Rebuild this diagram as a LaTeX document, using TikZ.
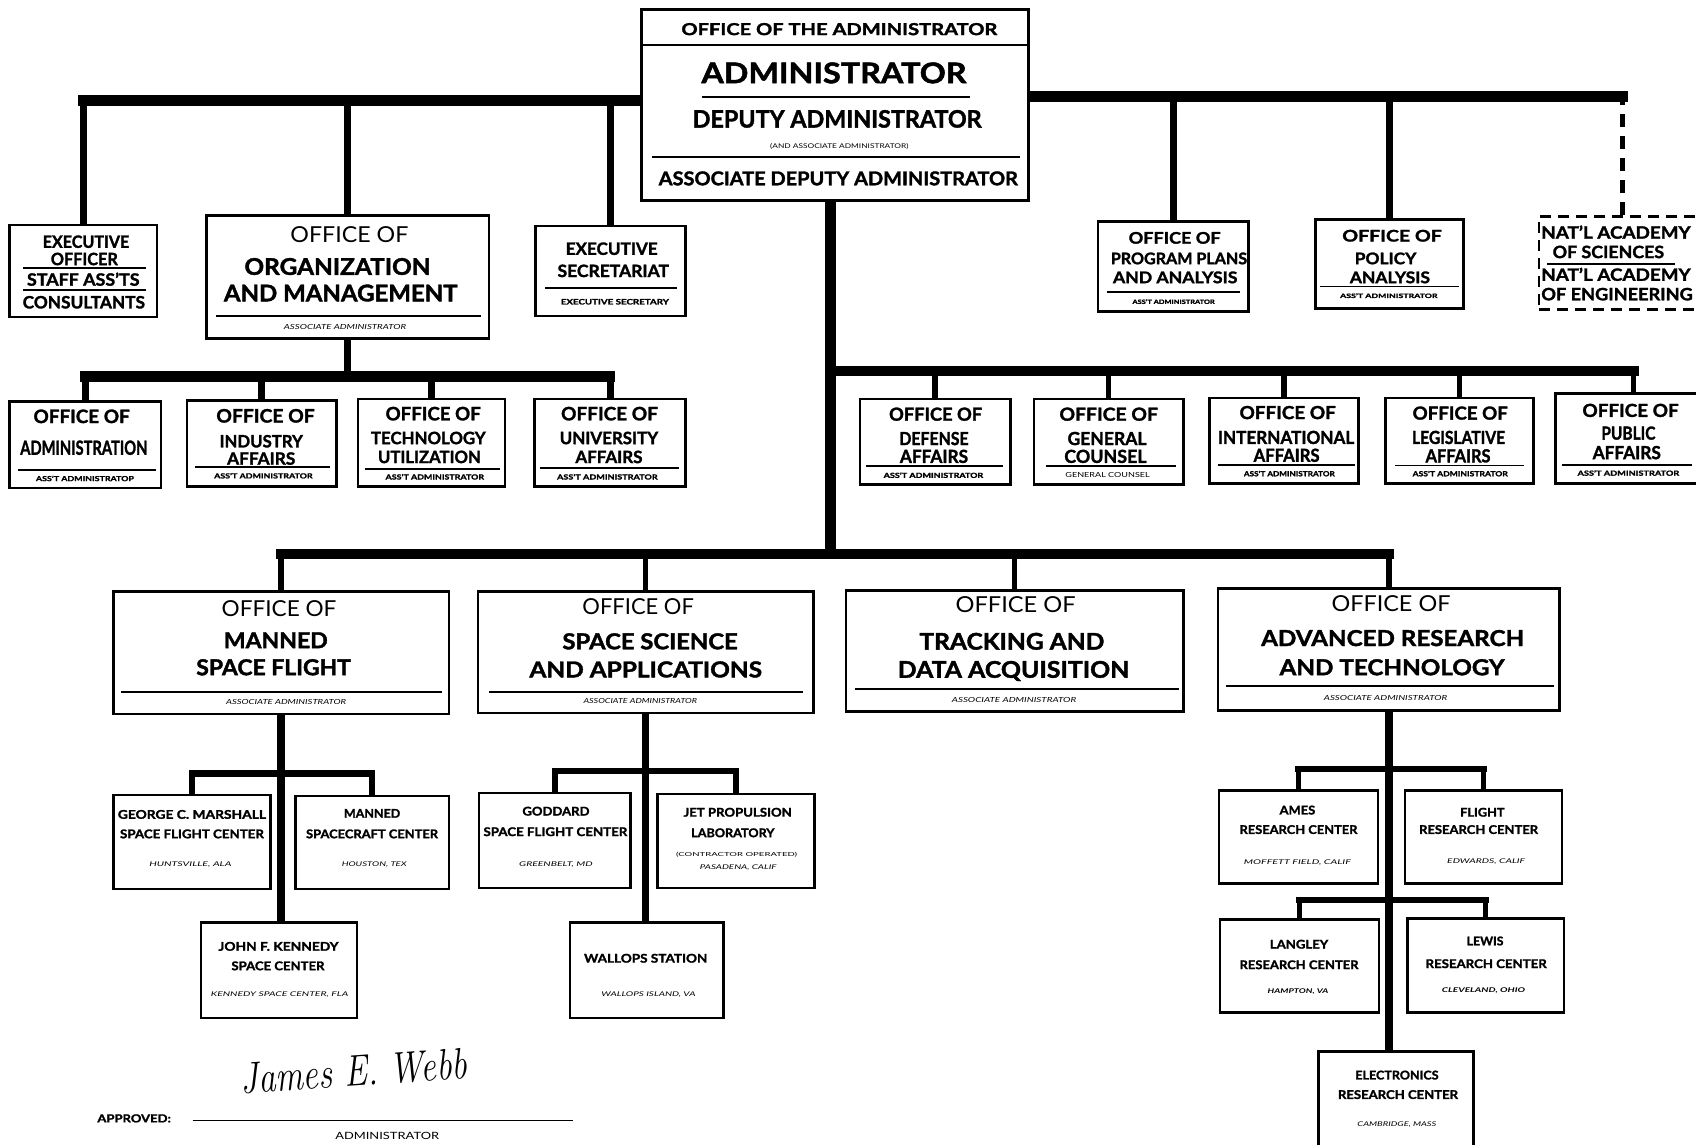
\documentclass[tikz,border=0pt]{standalone}
\usepackage{fontspec}
\setsansfont{Lato}[BoldFeatures={FakeBold=1.6}]
\renewcommand\familydefault{\sfdefault}
\usetikzlibrary{fit,backgrounds}
\newlength\uu\setlength\uu{1.0816pt}
\newcounter{tc}
\newcommand\tx[6]{\stepcounter{tc}\edef\tcname{t\arabic{tc}}\node[txt] (\tcname) at (#1,{#2+#4*0.331}) {\resizebox{#3\uu}{\height}{\fontsize{#4}{#4}\selectfont#5#6}};}
\newcommand\bx[5]{\node[boxst,fit={(#2,#3)(#4,#5)}] (#1) {};}
\newcommand\hl[3]{\draw[inl] (#1,#3) -- (#2,#3);}
\tikzset{
 txt/.style={anchor=base,inner sep=0pt,outer sep=0pt},
 boxst/.style={draw,line width=2.6pt,inner sep=0pt,fill=white},
 dboxst/.style={draw,line width=2.6pt,inner sep=0pt,fill=white,dash pattern=on 11pt off 7pt},
 inl/.style={line width=1.6pt},
 thickbar/.style={line width=10.5pt,line cap=rect},
 dropA/.style={line width=7pt},
 dropB/.style={line width=5.5pt},
 ddrop/.style={line width=5pt,dash pattern=on 13pt off 9pt},
 subspine/.style={line width=7.5pt},
 sbar/.style={line width=6.5pt,line cap=rect},
}
\begin{document}
\begin{tikzpicture}[x=1.0816pt,y=-1.0816pt]
\useasboundingbox (0,0) rectangle (1568,1058);
\begin{pgfonlayer}{background}
\fill[white] (0,0) rectangle (1568,1058);
\end{pgfonlayer}

% ---------- boxes ----------
\node[boxst,line width=3pt,fit={(593,9)(951,185)}] (adm) {};
\bx{eo}{9}{208}{145}{293}
\bx{org}{191}{199}{452}{313}
\bx{es}{495}{209}{634}{292}
\bx{ppa}{1015}{205}{1154}{288}
\bx{pol}{1216}{203}{1353}{285}
\node[dboxst,fit={(1423,200)(1577,286)}] (nas) {};
\bx{oad}{9}{371}{149}{451}
\bx{oind}{173}{370}{311}{450}
\bx{otec}{331}{369}{467}{450}
\bx{ouni}{494}{369}{634}{450}
\bx{def}{795}{369}{934}{448}
\bx{gc}{956}{369}{1094}{448}
\bx{intl}{1118}{368}{1256}{447}
\bx{leg}{1281}{368}{1418}{447}
\bx{pub}{1438}{364}{1582}{447}
\bx{man}{105}{547}{415}{660}
\bx{ss}{442}{547}{752}{659}
\bx{tda}{782}{546}{1094}{658}
\bx{adv}{1126}{544}{1442}{657}
\bx{msfc}{105}{735}{250}{822}
\bx{msc}{273}{736}{415}{822}
\bx{ksc}{186}{853}{330}{941}
\bx{gsfc}{443}{733}{583}{821}
\bx{jpl}{608}{734}{753}{821}
\bx{wal}{527}{853}{669}{941}
\bx{ames}{1127}{731}{1274}{817}
\bx{frc}{1299}{731}{1444}{817}
\bx{larc}{1128}{850}{1275}{936}
\bx{lerc}{1301}{849}{1446}{936}
\bx{erc}{1219}{972}{1362}{1068}

% ---------- connectors ----------
\coordinate (yT1) at (0,93);
\coordinate (yT2) at (0,89);
\coordinate (sp) at (768,0);
\coordinate (yM) at (0,343);
\coordinate (yB) at (0,512);
\coordinate (yO) at (0,348);
\coordinate (yMB) at (0,715);
\coordinate (ySB) at (0,713);
\coordinate (yAB) at (0,711);
\coordinate (yAB2) at (0,832);
\begin{pgfonlayer}{background}
\draw[thickbar] (adm.west |- yT1) -- (eo.north |- yT1);
\draw[dropA] (eo.north) -- (eo.north |- yT1);
\draw[dropA] (org.north) -- (org.north |- yT1);
\draw[dropA] (es.north) -- (es.north |- yT1);
\draw[thickbar] (adm.east |- yT2) -- (nas.north |- yT2);
\draw[dropA] (ppa.north) -- (ppa.north |- yT2);
\draw[dropA] (pol.north) -- (pol.north |- yT2);
\draw[ddrop] (nas.north) -- (nas.north |- yT2);
% spine
\draw[thickbar] (adm.south -| sp) -- (sp |- yB);
\draw[thickbar] (sp |- yM) -- (pub.north |- yM);
\foreach \n in {def,gc,intl,leg,pub} \draw[dropB] (\n.north) -- (\n.north |- yM);
\draw[thickbar] (man.north |- yB) -- (adv.north |- yB);
\foreach \n in {man,ss,tda,adv} \draw[dropB] (\n.north) -- (\n.north |- yB);
% org
\draw[dropA] (org.south) -- (org.south |- yO);
\draw[thickbar] (oad.north |- yO) -- (ouni.north |- yO);
\foreach \n in {oad,oind,otec,ouni} \draw[dropA] (\n.north) -- (\n.north |- yO);
% manned
\draw[subspine] (man.south) -- (man.south |- ksc.north);
\draw[sbar] (msfc.north |- yMB) -- (msc.north |- yMB);
\foreach \n in {msfc,msc} \draw[dropB] (\n.north) -- (\n.north |- yMB);
% space science
\draw[subspine] (ss.south) -- (ss.south |- wal.north);
\draw[sbar] (gsfc.north |- ySB) -- (jpl.north |- ySB);
\foreach \n in {gsfc,jpl} \draw[dropB] (\n.north) -- (\n.north |- ySB);
% advanced
\draw[subspine] (adv.south) -- (adv.south |- erc.north);
\draw[sbar] (ames.north |- yAB) -- (frc.north |- yAB);
\foreach \n in {ames,frc} \draw[dropB] (\n.north) -- (\n.north |- yAB);
\draw[sbar] (larc.north |- yAB2) -- (lerc.north |- yAB2);
\foreach \n in {larc,lerc} \draw[dropB] (\n.north) -- (\n.north |- yAB2);
\end{pgfonlayer}

% ---------- main box ----------
\draw[line width=2.2pt] (593,41.6) -- (951,41.6);
\hl{649}{897}{89.5}
\hl{603}{943}{145}
\tx{776}{27}{292}{16.5}{\bfseries}{OFFICE OF THE ADMINISTRATOR}
\tx{771}{67.5}{245}{28.5}{\bfseries}{ADMINISTRATOR}
\tx{774}{110}{267}{24}{\bfseries}{DEPUTY ADMINISTRATOR}
\tx{776}{135}{128}{6.5}{}{(AND ASSOCIATE ADMINISTRATOR)}
\tx{775}{165}{332}{19}{\bfseries}{ASSOCIATE DEPUTY ADMINISTRATOR}

% ---------- executive officer ----------
\hl{21}{135}{248}
\hl{21}{135}{268}
\tx{79.5}{223.5}{80}{17}{\bfseries}{EXECUTIVE}
\tx{78}{239.5}{62}{17}{\bfseries}{OFFICER}
\tx{77}{258.5}{104}{17}{\bfseries}{STAFF ASS'TS}
\tx{77.5}{279.5}{113}{17}{\bfseries}{CONSULTANTS}

% ---------- organization and management ----------
\hl{200}{445}{292}
\tx{323}{217}{109}{22}{}{OFFICE OF}
\tx{312}{246.5}{172}{23}{\bfseries}{ORGANIZATION}
\tx{315}{271}{216}{23}{\bfseries}{AND MANAGEMENT}
\tx{319}{302.5}{113}{7}{\itshape}{ASSOCIATE ADMINISTRATOR}

% ---------- executive secretariat ----------
\hl{504}{626}{266.5}
\tx{565.5}{230}{85}{17}{\bfseries}{EXECUTIVE}
\tx{567}{250.5}{103}{17}{\bfseries}{SECRETARIAT}
\tx{568.5}{279}{100}{7.5}{\bfseries}{EXECUTIVE SECRETARY}

% ---------- program plans ----------
\hl{1023}{1146}{270}
\tx{1086}{220}{85}{16}{\bfseries}{OFFICE OF}
\tx{1090}{239}{126}{16}{\bfseries}{PROGRAM PLANS}
\tx{1086.5}{256.5}{115}{16}{\bfseries}{AND ANALYSIS}
\tx{1085}{279}{76}{6}{\bfseries}{ASS'T ADMINISTRATOR}

% ---------- policy analysis ----------
\hl{1220}{1349}{265}
\tx{1287}{218}{92}{16}{\bfseries}{OFFICE OF}
\tx{1281}{239}{57}{16}{\bfseries}{POLICY}
\tx{1285}{256.5}{74}{16}{\bfseries}{ANALYSIS}
\tx{1284}{273.5}{90}{6}{\bfseries}{ASS'T ADMINISTRATOR}

% ---------- national academies ----------
\hl{1430}{1549}{244}
\tx{1494}{215}{138}{17}{\bfseries}{NAT'L ACADEMY}
\tx{1487}{233}{103}{17}{\bfseries}{OF SCIENCES}
\tx{1494}{254}{138}{17}{\bfseries}{NAT'L ACADEMY}
\tx{1495}{272}{140}{17}{\bfseries}{OF ENGINEERING}

% ---------- org children ----------
\hl{16.5}{144}{434.5}
\tx{75.5}{385}{89}{18.5}{\bfseries}{OFFICE OF}
\tx{77.5}{414}{117.5}{19.5}{\bfseries}{ADMINISTRATION}
\tx{78.5}{442.5}{90.5}{7}{\bfseries}{ASS'T ADMINISTRATOP}

\hl{180.5}{305}{432}
\tx{245.5}{384.5}{91}{18.5}{\bfseries}{OFFICE OF}
\tx{241.5}{408}{77}{17}{\bfseries}{INDUSTRY}
\tx{241.5}{424}{63}{17}{\bfseries}{AFFAIRS}
\tx{243.5}{440}{91}{7}{\bfseries}{ASS'T ADMINISTRATOR}

\hl{337}{462}{433.5}
\tx{400.5}{382.5}{88}{18.5}{\bfseries}{OFFICE OF}
\tx{396}{405}{106}{17}{\bfseries}{TECHNOLOGY}
\tx{397}{422.5}{95}{17}{\bfseries}{UTILIZATION}
\tx{402}{441}{91}{7}{\bfseries}{ASS'T ADMINISTRATOR}

\hl{499}{627.5}{432.5}
\tx{563.5}{382.5}{89.5}{18.5}{\bfseries}{OFFICE OF}
\tx{563}{405}{91}{17}{\bfseries}{UNIVERSITY}
\tx{563}{422.5}{62}{17}{\bfseries}{AFFAIRS}
\tx{561.5}{441}{93}{7}{\bfseries}{ASS'T ADMINISTRATOR}

% ---------- staff offices right ----------
\hl{800.5}{927.5}{431}
\tx{865}{383}{86}{18}{\bfseries}{OFFICE OF}
\tx{863.5}{405.5}{64}{18}{\bfseries}{DEFENSE}
\tx{863.5}{422}{63}{18}{\bfseries}{AFFAIRS}
\tx{863}{439.5}{92}{7}{\bfseries}{ASS'T ADMINISTRATOR}

\hl{967}{1087}{431}
\tx{1025}{383}{91}{18}{\bfseries}{OFFICE OF}
\tx{1023.5}{405.5}{73}{18}{\bfseries}{GENERAL}
\tx{1022}{422}{76}{18}{\bfseries}{COUNSEL}
\tx{1024}{439.5}{78}{7}{}{GENERAL COUNSEL}

\hl{1126}{1252.5}{430}
\tx{1190.5}{381.5}{89}{18}{\bfseries}{OFFICE OF}
\tx{1189}{404.5}{126}{18}{\bfseries}{INTERNATIONAL}
\tx{1189.5}{421}{61}{18}{\bfseries}{AFFAIRS}
\tx{1192}{438}{84}{7}{\bfseries}{ASS'T ADMINISTRATOR}

\hl{1290}{1409}{430.5}
\tx{1350}{382}{88}{18}{\bfseries}{OFFICE OF}
\tx{1348.5}{404.5}{86}{18}{\bfseries}{LEGISLATIVE}
\tx{1348}{421.5}{60}{18}{\bfseries}{AFFAIRS}
\tx{1350}{438}{88}{7}{\bfseries}{ASS'T ADMINISTRATOR}

\hl{1444}{1564}{430}
\tx{1507.5}{379.5}{89}{18}{\bfseries}{OFFICE OF}
\tx{1505.5}{400.5}{50}{18}{\bfseries}{PUBLIC}
\tx{1504}{418.5}{63}{18}{\bfseries}{AFFAIRS}
\tx{1505.5}{437.5}{94}{7}{\bfseries}{ASS'T ADMINISTRATOR}

% ---------- program offices ----------
\hl{112}{409}{640}
\tx{258}{563}{106}{22}{}{OFFICE OF}
\tx{255}{592}{96}{22}{\bfseries}{MANNED}
\tx{253}{617}{143}{22}{\bfseries}{SPACE FLIGHT}
\tx{264.5}{649}{111}{7}{\itshape}{ASSOCIATE ADMINISTRATOR}

\hl{452}{742}{640}
\tx{590}{561}{103}{22}{}{OFFICE OF}
\tx{601}{593}{162}{22}{\bfseries}{SPACE SCIENCE}
\tx{597}{619}{215}{22}{\bfseries}{AND APPLICATIONS}
\tx{592}{648}{105}{7}{\itshape}{ASSOCIATE ADMINISTRATOR}

\hl{790}{1090}{637}
\tx{939}{559}{111}{22}{}{OFFICE OF}
\tx{935.5}{593}{171}{23}{\bfseries}{TRACKING AND}
\tx{937}{619}{214}{23}{\bfseries}{DATA ACQUISITION}
\tx{937.5}{647}{115}{7}{\itshape}{ASSOCIATE ADMINISTRATOR}

\hl{1133}{1437}{634}
\tx{1286}{558}{110}{22}{}{OFFICE OF}
\tx{1287.5}{590}{243}{22}{\bfseries}{ADVANCED RESEARCH}
\tx{1287}{617}{208}{22}{\bfseries}{AND TECHNOLOGY}
\tx{1281}{645}{114}{7}{\itshape}{ASSOCIATE ADMINISTRATOR}

% ---------- field centers ----------
\tx{177.5}{753}{137}{12}{\bfseries}{GEORGE C. MARSHALL}
\tx{177.5}{771}{133}{12}{\bfseries}{SPACE FLIGHT CENTER}
\tx{176}{799}{76}{6.5}{\itshape}{HUNTSVILLE, ALA}

\tx{344}{752}{52}{12}{\bfseries}{MANNED}
\tx{344}{771}{122}{12}{\bfseries}{SPACECRAFT CENTER}
\tx{346}{799}{60}{6.5}{\itshape}{HOUSTON, TEX}

\tx{257.5}{875}{111}{12}{\bfseries}{JOHN F. KENNEDY}
\tx{257}{893}{86}{12}{\bfseries}{SPACE CENTER}
\tx{258.5}{919}{127}{6.5}{\itshape}{KENNEDY SPACE CENTER, FLA}

\tx{514}{750}{62}{12}{\bfseries}{GODDARD}
\tx{513.5}{769}{133}{12}{\bfseries}{SPACE FLIGHT CENTER}
\tx{514}{799}{68}{6.5}{\itshape}{GREENBELT, MD}

\tx{682}{751}{100}{12}{\bfseries}{JET PROPULSION}
\tx{677.5}{770}{77}{12}{\bfseries}{LABORATORY}
\tx{681}{790}{112}{5.5}{}{(CONTRACTOR OPERATED)}
\tx{682.5}{802}{71}{6.5}{\itshape}{PASADENA, CALIF}

\tx{597}{886}{114}{12}{\bfseries}{WALLOPS STATION}
\tx{599.5}{919}{87}{6.5}{\itshape}{WALLOPS ISLAND, VA}

\tx{1199.5}{749}{33}{12}{\bfseries}{AMES}
\tx{1200.5}{767}{109}{12}{\bfseries}{RESEARCH CENTER}
\tx{1199.5}{797}{99}{6.5}{\itshape}{MOFFETT FIELD, CALIF}

\tx{1370.5}{751}{41}{12}{\bfseries}{FLIGHT}
\tx{1367}{767}{110}{12}{\bfseries}{RESEARCH CENTER}
\tx{1374}{796}{72}{6.5}{\itshape}{EDWARDS, CALIF}

\tx{1201}{873}{54}{12}{\bfseries}{LANGLEY}
\tx{1201}{892}{110}{12}{\bfseries}{RESEARCH CENTER}
\tx{1200}{916}{56}{6.5}{\bfseries\itshape}{HAMPTON, VA}

\tx{1373}{870}{34}{12}{\bfseries}{LEWIS}
\tx{1374}{891}{112}{12}{\bfseries}{RESEARCH CENTER}
\tx{1371.5}{915}{77}{6.5}{\bfseries\itshape}{CLEVELAND, OHIO}

\tx{1291.5}{994}{77}{12}{\bfseries}{ELECTRONICS}
\tx{1292.5}{1012}{111}{12}{\bfseries}{RESEARCH CENTER}
\tx{1291.5}{1039}{73}{6.5}{\itshape}{CAMBRIDGE, MASS}

% ---------- approval ----------
\tx{124}{1034}{68}{11}{\bfseries}{APPROVED:}
\draw[line width=1.2pt] (178,1036) -- (530,1036);
\tx{358}{1050}{96}{10}{}{ADMINISTRATOR}
\node[txt,rotate=4] (sig) at (328,1004) {\resizebox{210\uu}{\height}{\fontsize{44}{44}\selectfont\rmfamily\itshape James E. Webb}};
\end{tikzpicture}
\end{document}
